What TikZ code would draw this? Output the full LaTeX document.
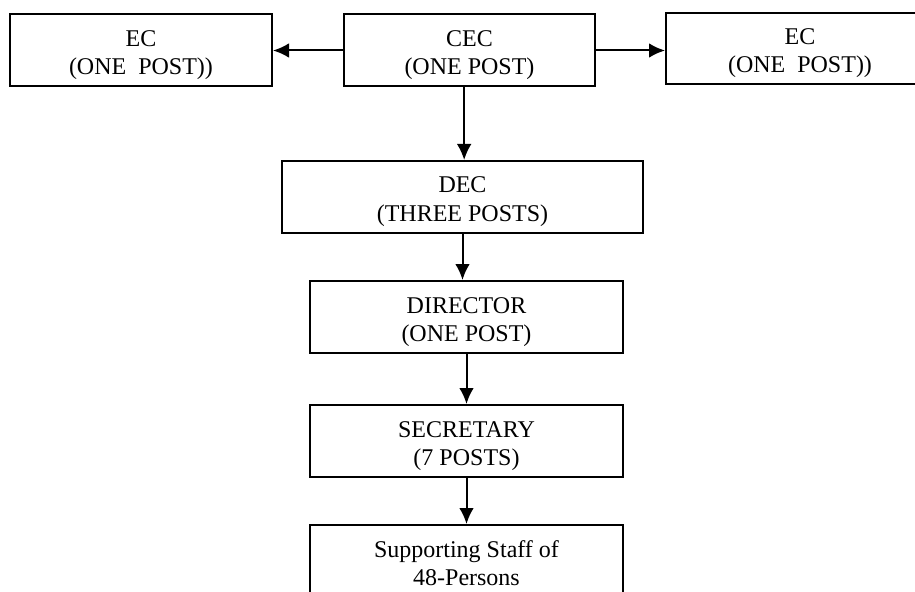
\documentclass[tikz,border=0pt]{standalone}
\usepackage{fontspec}
\setmainfont{Liberation Serif}
\usetikzlibrary{arrows.meta}

\begin{document}
\begin{tikzpicture}[
        x=0.75pt, y=-0.75pt, % Координаты в пикселях, ось y вниз
        post/.style={draw, line width=1.5pt, align=center, inner sep=0pt,
            minimum height=54pt, text height=38pt, text depth=2pt,
            font=\fontsize{18}{21}\selectfont}, % Стиль блоков
        link/.style={draw, line width=1.5pt, -{Latex[length=12pt,width=11pt]}}, % Стрелки
    ]
    \useasboundingbox (0,0) rectangle (915,592);
    \clip (0,0) rectangle (915,592);

    \node[post, minimum width=196.5pt] (ecl) at (141,50.5) {EC\\(ONE~~POST))};
    \node[post, minimum width=188.25pt] (cec) at (469.5,50.5) {CEC\\(ONE POST)};
    \node[post, minimum width=201pt, minimum height=53.25pt] (ecr) at (800,48.5) {EC\\(ONE~~POST))};
    \node[post, minimum width=270.75pt] (dec) at (462.5,197) {DEC\\(THREE POSTS)};
    \node[post, minimum width=234.75pt] (dir) at (466.5,317) {DIRECTOR\\(ONE POST)};
    \node[post, minimum width=234.75pt] (sec) at (466.5,441) {SECRETARY\\(7 POSTS)};
    \node[post, minimum width=234.75pt] (sup) at (466.5,561) {Supporting Staff of\\48-Persons};

    \draw[link] (cec.west) -- (ecl.east);
    \draw[link] (cec.east) -- (cec.east -| ecr.west);
    \draw[link] ([xshift=-4pt]cec.south) -- ([xshift=-4pt]cec.south |- dec.north);
    \draw[link] (dec.south) -- (dec.south |- dir.north);
    \draw[link] (dir) -- (sec);
    \draw[link] (sec) -- (sup);

\end{tikzpicture}
\end{document}
